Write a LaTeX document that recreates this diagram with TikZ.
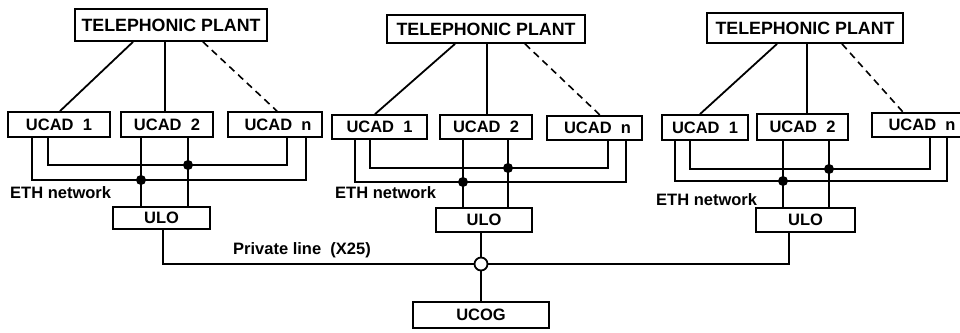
\documentclass[tikz,border=0pt]{standalone}
\usepackage{fontspec}
\setmainfont{Liberation Sans}
\begin{document}
\begin{tikzpicture}[x=1pt,y=-1pt,
  every node/.style={font=\fontsize{16.5}{19}\selectfont\bfseries},
  tpfont/.style={font=\fontsize{17.8}{20}\selectfont\bfseries},
  box/.style={draw, line width=1.8pt, inner sep=0pt, fill=white},
  ln/.style={line width=1.8pt},
  dsh/.style={line width=1.6pt, dash pattern=on 7pt off 5pt},
  lbl/.style={anchor=west, inner sep=0pt},
  hubst/.style={circle, draw, line width=1.8pt, fill=white, minimum size=13pt, inner sep=0pt}]
\useasboundingbox (0,0) rectangle (960,332);
\clip (0,0) rectangle (960,332);

% ---------- group 1 ----------
\node[box, tpfont, minimum width=192pt, minimum height=32pt] (TP1) at (171,25) {TELEPHONIC PLANT};
\node[box, minimum width=102pt, minimum height=25pt] (U11) at (59,124.5) {UCAD\ \ 1};
\node[box, minimum width=92pt, minimum height=25pt] (U12) at (167,124.5) {UCAD\ \ 2};
\node[box, minimum width=94pt, minimum height=25pt] (U1n) at (275,124.5) {\hspace{6pt}UCAD\ \ n};
\node[box, minimum width=97pt, minimum height=22pt] (ULO1) at (161.5,218) {ULO};
\node[lbl] (E1) at (10,193) {ETH network};
\draw[ln] ([xshift=-38pt]TP1.south) -- ([xshift=1pt]U11.north);
\draw[ln] ([xshift=-6pt]TP1.south) -- ([xshift=-2pt]U12.north);
\draw[dsh] ([xshift=32pt]TP1.south) -- ([xshift=2pt]U1n.north);
\coordinate (o1l) at (32,180); \coordinate (o1r) at (306,180);
\coordinate (i1l) at (48,165); \coordinate (i1r) at (287,165);
\coordinate (d1a) at (141,180); \coordinate (d1b) at (188,165);
\draw[ln] (U11.south -| o1l) -- (o1l) -- (o1r) -- (U1n.south -| o1r);
\draw[ln] (U11.south -| i1l) -- (i1l) -- (i1r) -- (U1n.south -| i1r);
\draw[ln] (U12.south -| d1a) -- (ULO1.north -| d1a);
\draw[ln] (U12.south -| d1b) -- (ULO1.north -| d1b);
\fill (d1a) circle[radius=5pt];
\fill (d1b) circle[radius=5pt];

% ---------- group 2 ----------
\node[box, tpfont, minimum width=198pt, minimum height=28pt] (TP2) at (486,29) {TELEPHONIC PLANT};
\node[box, minimum width=95pt, minimum height=24pt] (U21) at (379.5,127) {UCAD\ \ 1};
\node[box, minimum width=92pt, minimum height=24pt] (U22) at (486,127) {UCAD\ \ 2};
\node[box, minimum width=95pt, minimum height=24pt] (U2n) at (594.5,128) {\hspace{6pt}UCAD\ \ n};
\node[box, minimum width=96pt, minimum height=24pt] (ULO2) at (484,220) {ULO};
\node[lbl] (E2) at (335,193) {ETH network};
\draw[ln] ([xshift=-31pt]TP2.south) -- ([xshift=-4.5pt]U21.north);
\draw[ln] ([xshift=1pt]TP2.south) -- ([xshift=1pt]U22.north);
\draw[dsh] ([xshift=39pt]TP2.south) -- ([xshift=5.5pt]U2n.north);
\coordinate (o2l) at (355,182); \coordinate (o2r) at (626,182);
\coordinate (i2l) at (370,168); \coordinate (i2r) at (608,168);
\coordinate (d2a) at (463,182); \coordinate (d2b) at (508,168);
\draw[ln] (U21.south -| o2l) -- (o2l) -- (o2r) -- (U2n.south -| o2r);
\draw[ln] (U21.south -| i2l) -- (i2l) -- (i2r) -- (U2n.south -| i2r);
\draw[ln] (U22.south -| d2a) -- (ULO2.north -| d2a);
\draw[ln] (U22.south -| d2b) -- (ULO2.north -| d2b);
\fill (d2a) circle[radius=5pt];
\fill (d2b) circle[radius=5pt];

% ---------- group 3 ----------
\node[box, tpfont, minimum width=196pt, minimum height=30pt] (TP3) at (805,28) {TELEPHONIC PLANT};
\node[box, minimum width=86pt, minimum height=25pt] (U31) at (705,127.5) {UCAD\ \ 1};
\node[box, minimum width=91pt, minimum height=26pt] (U32) at (802.5,127) {UCAD\ \ 2};
\node[box, minimum width=94pt, minimum height=24pt] (U3n) at (919,125) {\hspace{6pt}UCAD\ \ n};
\node[box, minimum width=99pt, minimum height=24pt] (ULO3) at (805.5,220) {ULO};
\node[lbl] (E3) at (656,200) {ETH network};
\draw[ln] ([xshift=-28pt]TP3.south) -- ([xshift=-5pt]U31.north);
\draw[ln] ([xshift=2pt]TP3.south) -- ([xshift=4.5pt]U32.north);
\draw[dsh] ([xshift=37pt]TP3.south) -- ([xshift=-16pt]U3n.north);
\coordinate (o3l) at (675,181); \coordinate (o3r) at (947,181);
\coordinate (i3l) at (690,169); \coordinate (i3r) at (930,169);
\coordinate (d3a) at (783,181); \coordinate (d3b) at (829,169);
\draw[ln] (U31.south -| o3l) -- (o3l) -- (o3r) -- (U3n.south -| o3r);
\draw[ln] (U31.south -| i3l) -- (i3l) -- (i3r) -- (U3n.south -| i3r);
\draw[ln] (U32.south -| d3a) -- (ULO3.north -| d3a);
\draw[ln] (U32.south -| d3b) -- (ULO3.north -| d3b);
\fill (d3a) circle[radius=5pt];
\fill (d3b) circle[radius=5pt];

% ---------- private line and UCOG ----------
\node[hubst] (hub) at (481,264) {};
\node[box, minimum width=136pt, minimum height=26pt] (UCOG) at (481,315) {UCOG};
\node[lbl] (PL) at (233,250) {Private line\ \ (X25)};
\coordinate (p1) at (163,264);
\coordinate (p3) at (789,264);
\draw[ln] (ULO1.south -| p1) -- (p1) -- (hub);
\draw[ln] (hub) -- (p3) -- (ULO3.south -| p3);
\draw[ln] (ULO2.south -| hub) -- (hub);
\draw[ln] (hub) -- (UCOG);
\end{tikzpicture}
\end{document}
